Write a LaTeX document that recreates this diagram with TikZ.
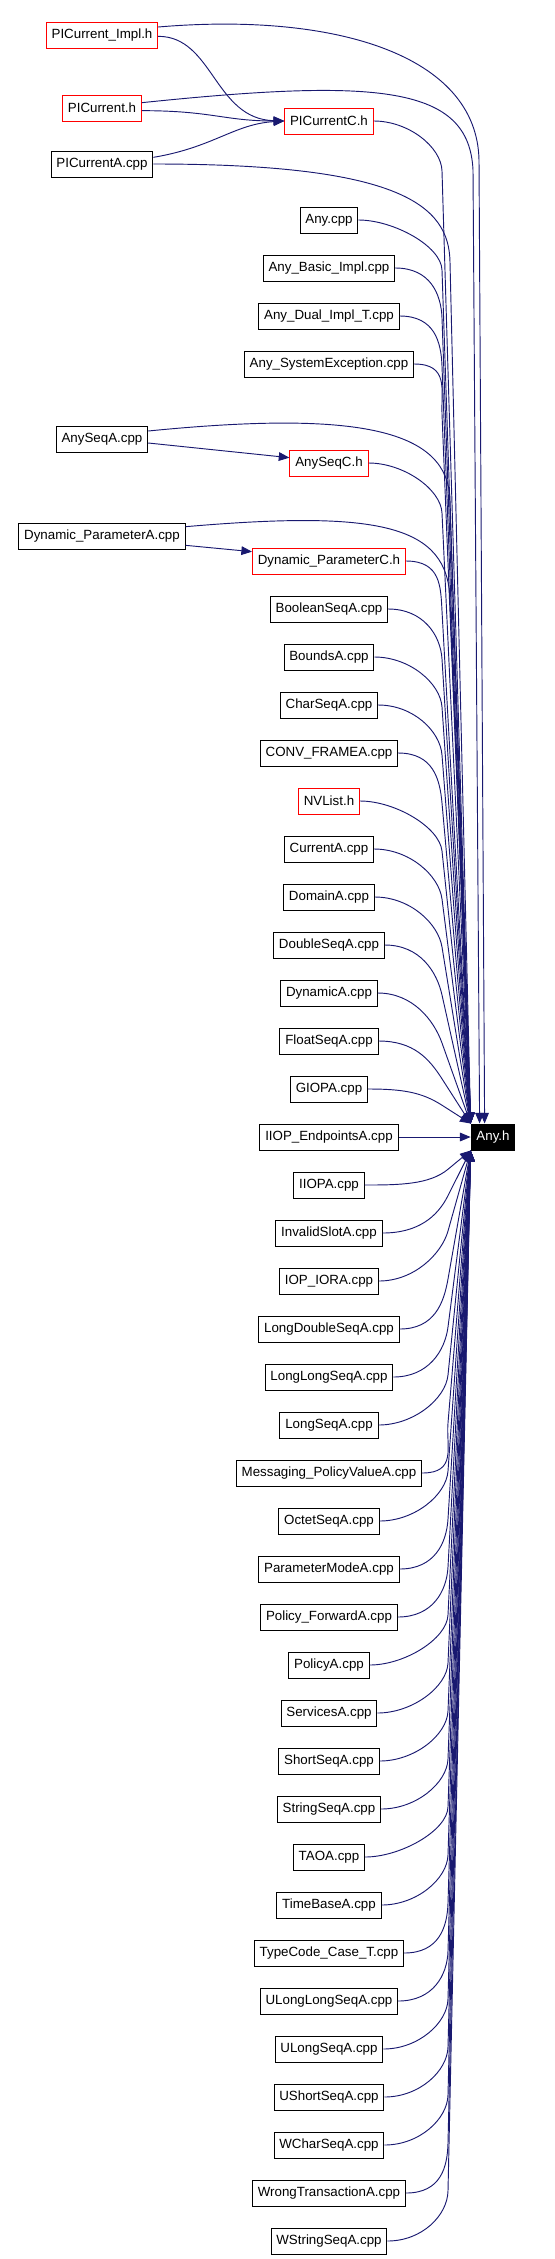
\documentclass[tikz,border=0pt]{standalone}
\usepackage{fontspec}
\setmainfont{Liberation Sans}
\usepackage{tikz}
\usetikzlibrary{arrows.meta, calc}
\definecolor{edgeblue}{RGB}{25,25,112}

\begin{document}
\begin{tikzpicture}[
  x=0.75pt, y=-0.75pt,
  file/.style={rectangle, draw=black, line width=0.75pt, fill=white, align=center,
               inner xsep=4pt, inner ysep=0pt, minimum height=19.5pt,
               font=\fontsize{10}{12}\selectfont},
  redfile/.style={file, draw=red},
  target/.style={file, fill=black, text=white},
  edge/.style={-{Triangle[length=8pt, width=6.5pt]}, draw=edgeblue, line width=0.7pt}
]
\useasboundingbox (0,0) rectangle (554,2259);
% left column
\node[redfile] (impl) at (102,35) {PICurrent\_Impl.h};
\node[redfile] (picur) at (102,108) {PICurrent.h};
\node[file] (pica) at (102,164) {PICurrentA.cpp};
\node[file] (anyseqa) at (102,439) {AnySeqA.cpp};
\node[file] (dyna) at (102,536) {Dynamic\_ParameterA.cpp};
\node[target] (anyh) at (493,1137) {Any.h};
% middle column, every file goes to Any.h
\foreach \y/\id/\txt/\bc in {
  121/picc/PICurrentC.h/red,
  220/anycpp/Any.cpp/black,
  268/anybasic/Any\_Basic\_Impl.cpp/black,
  316/anydual/Any\_Dual\_Impl\_T.cpp/black,
  364/anysysex/Any\_SystemException.cpp/black,
  463/anyseqc/AnySeqC.h/red,
  561/dync/Dynamic\_ParameterC.h/red,
  609/booleanseq/BooleanSeqA.cpp/black,
  657/bounds/BoundsA.cpp/black,
  705/charseq/CharSeqA.cpp/black,
  753/convframe/CONV\_FRAMEA.cpp/black,
  801/nvlist/NVList.h/red,
  849/current/CurrentA.cpp/black,
  897/domain/DomainA.cpp/black,
  945/doubleseq/DoubleSeqA.cpp/black,
  993/dynamic/DynamicA.cpp/black,
  1041/floatseq/FloatSeqA.cpp/black,
  1089/giop/GIOPA.cpp/black,
  1137/iiopend/IIOP\_EndpointsA.cpp/black,
  1185/iiop/IIOPA.cpp/black,
  1233/invalidslot/InvalidSlotA.cpp/black,
  1281/iopior/IOP\_IORA.cpp/black,
  1329/longdoubleseq/LongDoubleSeqA.cpp/black,
  1377/longlongseq/LongLongSeqA.cpp/black,
  1425/longseq/LongSeqA.cpp/black,
  1473/messaging/Messaging\_PolicyValueA.cpp/black,
  1521/octetseq/OctetSeqA.cpp/black,
  1569/parammode/ParameterModeA.cpp/black,
  1617/policyfwd/Policy\_ForwardA.cpp/black,
  1665/policy/PolicyA.cpp/black,
  1713/services/ServicesA.cpp/black,
  1761/shortseq/ShortSeqA.cpp/black,
  1809/stringseq/StringSeqA.cpp/black,
  1857/tao/TAOA.cpp/black,
  1905/timebase/TimeBaseA.cpp/black,
  1953/typecodecase/TypeCode\_Case\_T.cpp/black,
  2001/ulonglongseq/ULongLongSeqA.cpp/black,
  2049/ulongseq/ULongSeqA.cpp/black,
  2097/ushortseq/UShortSeqA.cpp/black,
  2145/wcharseq/WCharSeqA.cpp/black,
  2193/wrongtrans/WrongTransactionA.cpp/black,
  2241/wstringseq/WStringSeqA.cpp/black}{
  \node[file, draw=\bc] (\id) at (329,\y) {\txt};
  \ifnum\y<1137
    \pgfmathsetmacro\by{\y+min(50,0.45*(1125-\y))}
    \draw[edge] (\id.east) .. controls +(35,0) and ($(442,\by)!-18pt!(anyh.north west)$) .. (442,\by) -- (anyh.north west);
  \else\ifnum\y>1137
    \pgfmathsetmacro\by{\y-min(50,0.45*(\y-1150))}
    \draw[edge] (\id.east) .. controls +(35,0) and ($(448,\by)!-18pt!(anyh.south west)$) .. (448,\by) -- (anyh.south west);
  \else
    \draw[edge] (\id.east) -- (anyh.west);
  \fi\fi
}
% headers included by the C.h files
\draw[edge] ([yshift=-1pt]impl.east) .. controls +(55,0) and +(-70,-2) .. (picc.west);
\draw[edge] ([yshift=-2pt]picur.east) .. controls +(70,0) and +(-60,0) .. (picc.west);
\draw[edge] ([yshift=5pt]pica.east) .. controls +(60,-10) and +(-50,3) .. (picc.west);
\draw[edge] ([yshift=-3pt]anyseqa.east) -- ([yshift=4pt]anyseqc.west);
\draw[edge] ([yshift=-7pt]dyna.east) -- ([yshift=7pt]dync.west);
% long arcs over the top into Any.h
\draw[edge] ([yshift=6pt]impl.east) .. controls (335,12) and (477,55) .. (479,160) -- ($(anyh.north west)+(14,0)$);
\draw[edge] ([yshift=4pt]picur.east) .. controls (380,78) and (469,86) .. (473,170) -- ($(anyh.north west)+(9,0)$);
\draw[edge] (pica.east) .. controls (400,164) and (449,205) .. (450,262) -- (anyh.north west);
\draw[edge] ([yshift=6pt]anyseqa.east) .. controls (360,410) and (448,430) .. (450,500) -- (anyh.north west);
\draw[edge] ([yshift=7pt]dyna.east) .. controls (380,510) and (448,525) .. (450,600) -- (anyh.north west);
\end{tikzpicture}
\end{document}
